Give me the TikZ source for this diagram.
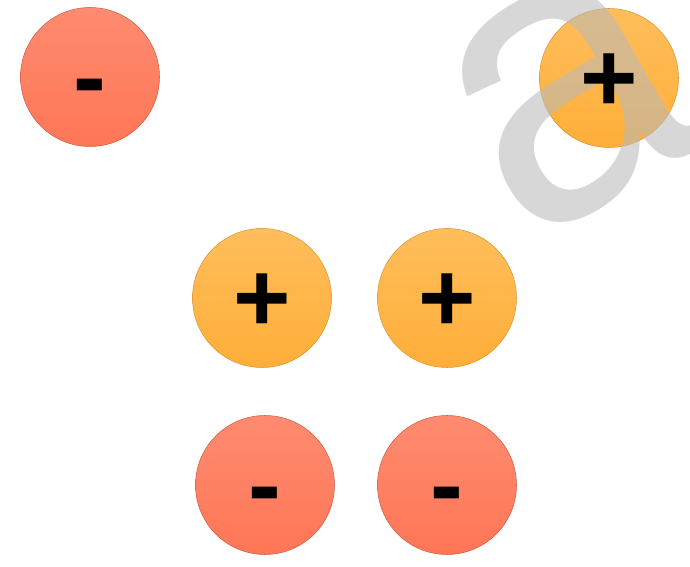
\documentclass[tikz,border=0pt]{standalone}
\usepackage{fontspec}
\setsansfont{Liberation Sans}
\definecolor{negtop}{HTML}{FF8B70}
\definecolor{negbot}{HTML}{FF7656}
\definecolor{postop}{HTML}{FFBE5C}
\definecolor{posbot}{HTML}{FFAE38}
\definecolor{wmgray}{HTML}{BABABA}
\tikzset{
  sign/.style={inner sep=0pt,text height=38pt,text depth=0pt,font=\sffamily\bfseries\fontsize{56}{56}\selectfont},
  negcharge/.style={circle,sign,minimum size=139*\u,top color=negtop,bottom color=negbot,
    draw=negbot!80!black,line width=0.3pt},
  poscharge/.style={circle,sign,minimum size=139*\u,top color=postop,bottom color=posbot,
    draw=posbot!85!black,line width=0.3pt},
}
\begin{document}
\begin{tikzpicture}
\def\u{0.02cm}
\useasboundingbox (0,0) rectangle (690*\u,-567*\u);

\node[negcharge] (negA) at (90*\u,-77*\u) {-};
\node[poscharge] (posA) at (609*\u,-78*\u) {};
\node[poscharge] (posB) at (262*\u,-298*\u) {+};
\node[poscharge] (posC) at (447*\u,-298*\u) {+};
\node[negcharge] (negB) at (265*\u,-485*\u) {-};
\node[negcharge] (negC) at (447*\u,-485*\u) {-};

% watermark
\node[text=wmgray,opacity=0.58,rotate=30,font=\sffamily\fontsize{230}{230}\selectfont] (wm) at (568*\u,-100*\u) {a};
\node[sign] (posAsign) at (posA) {+};
\end{tikzpicture}
\end{document}
